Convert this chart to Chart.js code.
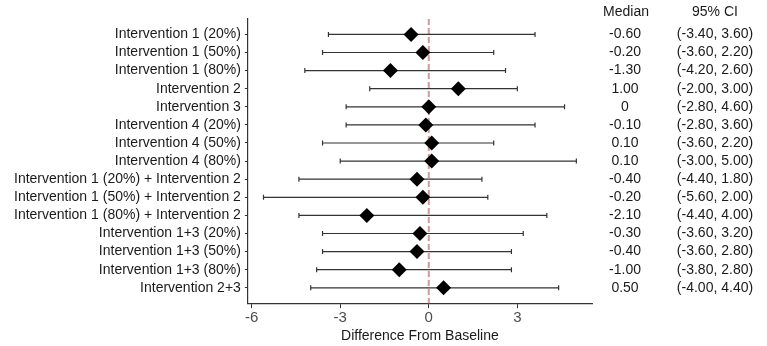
<!DOCTYPE html>
<html>
<head>
<meta charset="utf-8">
<script src="https://cdn.jsdelivr.net/npm/chart.js@4"></script>
<style>
  html, body { margin: 0; padding: 0; background: #fff; }
  #wrap { width: 767px; height: 346px; }
</style>
</head>
<body>
<div id="wrap"><canvas id="forestChart"></canvas></div>
<script>
// data
const labels = [
    'Intervention 1 (20%)', 'Intervention 1 (50%)', 'Intervention 1 (80%)',
    'Intervention 2', 'Intervention 3',
    'Intervention 4 (20%)', 'Intervention 4 (50%)', 'Intervention 4 (80%)',
    'Intervention 1 (20%) + Intervention 2', 'Intervention 1 (50%) + Intervention 2',
    'Intervention 1 (80%) + Intervention 2',
    'Intervention 1+3 (20%)', 'Intervention 1+3 (50%)', 'Intervention 1+3 (80%)',
    'Intervention 2+3'
];
const medians = [-0.6, -0.2, -1.3, 1.0, 0, -0.1, 0.1, 0.1, -0.4, -0.2, -2.1, -0.3, -0.4, -1.0, 0.5];
const lower = [-3.4, -3.6, -4.2, -2.0, -2.8, -2.8, -3.6, -3.0, -4.4, -5.6, -4.4, -3.6, -3.6, -3.8, -4.0];
const upper = [3.6, 2.2, 2.6, 3.0, 4.6, 3.6, 2.2, 5.0, 1.8, 2.0, 4.0, 3.2, 2.8, 2.8, 4.4];
const xTicks = [-6, -3, 0, 3];

const fmt = v => v === 0 ? '0' : v.toFixed(2);
const font = '"Liberation Sans", Arial, sans-serif';

// error bars, reference line and the right-hand table
const forestPlugin = {
    id: 'forest',
    beforeDatasetsDraw(chart) {
        const { ctx, scales: { x, y }, chartArea } = chart;
        ctx.save();
        // dashed line at 0
        ctx.strokeStyle = '#d09a9a';
        ctx.lineWidth = 2;
        ctx.setLineDash([6, 3]);
        ctx.beginPath();
        ctx.moveTo(x.getPixelForValue(0), chartArea.top);
        ctx.lineTo(x.getPixelForValue(0), chartArea.bottom);
        ctx.stroke();
        ctx.setLineDash([]);
        // whiskers
        ctx.strokeStyle = '#333';
        ctx.lineWidth = 1.2;
        labels.forEach((l, i) => {
            const py = y.getPixelForValue(i + 1);
            const x0 = x.getPixelForValue(lower[i]);
            const x1 = x.getPixelForValue(upper[i]);
            ctx.beginPath();
            ctx.moveTo(x0, py); ctx.lineTo(x1, py);
            ctx.moveTo(x0, py - 2.5); ctx.lineTo(x0, py + 2.5);
            ctx.moveTo(x1, py - 2.5); ctx.lineTo(x1, py + 2.5);
            ctx.stroke();
        });
        ctx.restore();
    },
    afterDraw(chart) {
        const { ctx, scales: { y } } = chart;
        ctx.save();
        ctx.fillStyle = '#1a1a1a';
        ctx.font = '14px ' + font;
        ctx.textAlign = 'center';
        ctx.textBaseline = 'middle';
        ctx.fillText('Median', 626, 12);
        ctx.fillText('95% CI', 715, 12);
        labels.forEach((l, i) => {
            const py = y.getPixelForValue(i + 1);
            ctx.fillText(fmt(medians[i]), 625, py);
            ctx.fillText('(' + lower[i].toFixed(2) + ', ' + upper[i].toFixed(2) + ')', 715, py);
        });
        ctx.restore();
    }
};

new Chart(document.getElementById('forestChart').getContext('2d'), {
    type: 'scatter',
    data: {
        datasets: [{
            label: 'Median',
            data: medians.map((m, i) => ({ x: m, y: i + 1 })),
            pointStyle: 'rectRot',
            pointRadius: 7.5,
            pointHoverRadius: 7.5,
            backgroundColor: '#000',
            borderColor: '#000',
            borderWidth: 0
        }]
    },
    options: {
        responsive: true,
        maintainAspectRatio: false,
        animation: false,
        layout: { padding: { left: 10, right: 175, top: 19, bottom: 1 } },
        plugins: { legend: { display: false }, tooltip: { enabled: false } },
        scales: {
            x: {
                type: 'linear',
                min: -6.13,
                max: 5.53,
                afterBuildTicks: axis => { axis.ticks = xTicks.map(v => ({ value: v })); },
                grid: { drawOnChartArea: false, drawTicks: true, tickLength: 5, color: '#333' },
                border: { display: true, color: '#333', width: 1.2 },
                ticks: { color: '#4d4d4d', font: { family: font, size: 15 }, padding: 1 },
                title: { display: true, text: 'Difference From Baseline', color: '#1a1a1a', font: { family: font, size: 14 }, padding: { top: 0, bottom: 0 } }
            },
            y: {
                type: 'linear',
                reverse: true,
                min: 0.15,
                max: 15.85,
                afterBuildTicks: axis => { axis.ticks = labels.map((l, i) => ({ value: i + 1 })); },
                grid: { drawOnChartArea: false, drawTicks: true, tickLength: 3, color: '#333' },
                border: { display: true, color: '#333', width: 1.2 },
                ticks: {
                    color: '#1a1a1a',
                    font: { family: font, size: 14 },
                    padding: 4,
                    autoSkip: false,
                    callback: v => labels[v - 1]
                }
            }
        }
    },
    plugins: [forestPlugin]
});
</script>
</body>
</html>
